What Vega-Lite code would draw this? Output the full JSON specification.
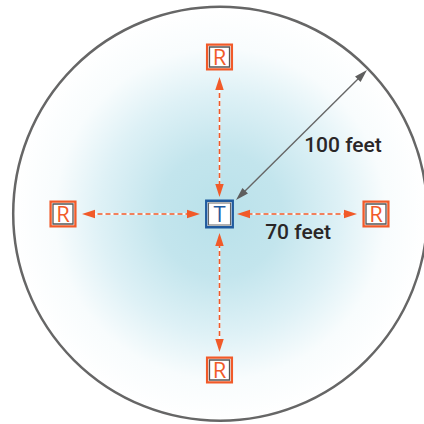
{
  "$schema": "https://vega.github.io/schema/vega-lite/v6.json",
  "width": 424,
  "height": 424,
  "autosize": {"type": "none"},
  "padding": 0,
  "background": "white",
  "config": {"view": {"stroke": null}, "axis": {"disable": true}},
  "datasets": {
    "circle": [{"x": 0.7, "y": 0.3}],
    "transmitter": [{"x": 0, "y": 0, "label": "T"}],
    "receivers": [
      {"x": 0, "y": 157, "label": "R"},
      {"x": -156.5, "y": 0, "label": "R"},
      {"x": 156.5, "y": 0, "label": "R"},
      {"x": 0, "y": -156, "label": "R"}
    ],
    "orangeLines": [
      {"x": 0, "y": 28, "x2": 0, "y2": 127},
      {"x": 0, "y": -29, "x2": 0, "y2": -128},
      {"x": -29, "y": 0, "x2": -127, "y2": 0},
      {"x": 28, "y": 0, "x2": 127, "y2": 0}
    ],
    "orangeHeads": [
      {"x": 0, "y": 17, "angle": 180},
      {"x": 0, "y": 137, "angle": 0},
      {"x": 0, "y": -19, "angle": 0},
      {"x": 0, "y": -138, "angle": 180},
      {"x": -19.5, "y": 0, "angle": 90},
      {"x": -137.5, "y": 0, "angle": 270},
      {"x": 17.5, "y": 0, "angle": 270},
      {"x": 137.5, "y": 0, "angle": 90}
    ],
    "grayLine": [{"x": 23, "y": 20.5, "x2": 141, "y2": 137.5}],
    "grayHeads": [
      {"x": 16.5, "y": 14, "angle": 225},
      {"x": 147.5, "y": 144, "angle": 45}
    ],
    "labels": [
      {"x": 123.5, "y": 68, "text": "100 feet"},
      {"x": 78.5, "y": -19, "text": "70 feet"}
    ]
  },
  "layer": [
    {
      "data": {"name": "circle"},
      "mark": {
        "type": "point",
        "shape": "circle",
        "filled": true,
        "size": 171396,
        "opacity": 1,
        "strokeWidth": 2.5,
        "stroke": "#666666",
        "fill": {
          "gradient": "radial",
          "x1": 0.5, "y1": 0.5, "r1": 0,
          "x2": 0.5, "y2": 0.5, "r2": 0.5,
          "stops": [
            {"offset": 0, "color": "#b9e1ea"},
            {"offset": 0.3, "color": "#c3e5ed"},
            {"offset": 0.58, "color": "#def1f6"},
            {"offset": 0.8, "color": "#f8fcfd"},
            {"offset": 1, "color": "#ffffff"}
          ]
        }
      },
      "encoding": {
        "x": {"field": "x", "type": "quantitative", "scale": {"domain": [-219.5, 204.5], "nice": false, "zero": false}},
        "y": {"field": "y", "type": "quantitative", "scale": {"domain": [-210, 214], "nice": false, "zero": false}}
      }
    },
    {
      "data": {"name": "orangeLines"},
      "mark": {"type": "rule", "color": "white", "strokeWidth": 1.6},
      "encoding": {
        "x": {"field": "x", "type": "quantitative", "scale": {"domain": [-219.5, 204.5], "nice": false, "zero": false}},
        "y": {"field": "y", "type": "quantitative", "scale": {"domain": [-210, 214], "nice": false, "zero": false}},
        "x2": {"field": "x2"},
        "y2": {"field": "y2"}
      }
    },
    {
      "data": {"name": "orangeLines"},
      "mark": {"type": "rule", "color": "#f15a29", "strokeWidth": 1.6, "strokeDash": [5, 3]},
      "encoding": {
        "x": {"field": "x", "type": "quantitative", "scale": {"domain": [-219.5, 204.5], "nice": false, "zero": false}},
        "y": {"field": "y", "type": "quantitative", "scale": {"domain": [-210, 214], "nice": false, "zero": false}},
        "x2": {"field": "x2"},
        "y2": {"field": "y2"}
      }
    },
    {
      "data": {"name": "orangeHeads"},
      "mark": {"type": "point", "shape": "M0,0L0.65,2L-0.65,2Z", "filled": true, "size": 169, "color": "#f15a29", "opacity": 1, "strokeWidth": 0},
      "encoding": {
        "x": {"field": "x", "type": "quantitative", "scale": {"domain": [-219.5, 204.5], "nice": false, "zero": false}},
        "y": {"field": "y", "type": "quantitative", "scale": {"domain": [-210, 214], "nice": false, "zero": false}},
        "angle": {"field": "angle", "type": "quantitative", "scale": null}
      }
    },
    {
      "data": {"name": "grayLine"},
      "mark": {"type": "rule", "color": "#666666", "strokeWidth": 1.4},
      "encoding": {
        "x": {"field": "x", "type": "quantitative", "scale": {"domain": [-219.5, 204.5], "nice": false, "zero": false}},
        "y": {"field": "y", "type": "quantitative", "scale": {"domain": [-210, 214], "nice": false, "zero": false}},
        "x2": {"field": "x2"},
        "y2": {"field": "y2"}
      }
    },
    {
      "data": {"name": "grayHeads"},
      "mark": {"type": "point", "shape": "M0,0L0.6,2L-0.6,2Z", "filled": true, "size": 169, "color": "#5e5e5e", "opacity": 1, "strokeWidth": 0},
      "encoding": {
        "x": {"field": "x", "type": "quantitative", "scale": {"domain": [-219.5, 204.5], "nice": false, "zero": false}},
        "y": {"field": "y", "type": "quantitative", "scale": {"domain": [-210, 214], "nice": false, "zero": false}},
        "angle": {"field": "angle", "type": "quantitative", "scale": null}
      }
    },
    {
      "data": {"name": "receivers"},
      "mark": {"type": "point", "shape": "square", "filled": false, "size": 615, "fill": "white", "fillOpacity": 1, "stroke": "#f15a29", "strokeWidth": 2.3, "opacity": 1},
      "encoding": {
        "x": {"field": "x", "type": "quantitative", "scale": {"domain": [-219.5, 204.5], "nice": false, "zero": false}},
        "y": {"field": "y", "type": "quantitative", "scale": {"domain": [-210, 214], "nice": false, "zero": false}}
      }
    },
    {
      "data": {"name": "receivers"},
      "mark": {"type": "point", "shape": "square", "filled": false, "size": 400, "stroke": "#555555", "strokeWidth": 1.3, "opacity": 1},
      "encoding": {
        "x": {"field": "x", "type": "quantitative", "scale": {"domain": [-219.5, 204.5], "nice": false, "zero": false}},
        "y": {"field": "y", "type": "quantitative", "scale": {"domain": [-210, 214], "nice": false, "zero": false}}
      }
    },
    {
      "data": {"name": "receivers"},
      "mark": {"type": "text", "font": "Open Sans", "fontSize": 22, "color": "#f15a29", "align": "center", "baseline": "middle", "dy": 1},
      "encoding": {
        "x": {"field": "x", "type": "quantitative", "scale": {"domain": [-219.5, 204.5], "nice": false, "zero": false}},
        "y": {"field": "y", "type": "quantitative", "scale": {"domain": [-210, 214], "nice": false, "zero": false}},
        "text": {"field": "label"}
      }
    },
    {
      "data": {"name": "transmitter"},
      "mark": {"type": "point", "shape": "square", "filled": false, "size": 702, "fill": "white", "fillOpacity": 1, "stroke": "#1f5a9e", "strokeWidth": 2.4, "opacity": 1},
      "encoding": {
        "x": {"field": "x", "type": "quantitative", "scale": {"domain": [-219.5, 204.5], "nice": false, "zero": false}},
        "y": {"field": "y", "type": "quantitative", "scale": {"domain": [-210, 214], "nice": false, "zero": false}}
      }
    },
    {
      "data": {"name": "transmitter"},
      "mark": {"type": "point", "shape": "square", "filled": false, "size": 484, "stroke": "#666666", "strokeWidth": 1.1, "opacity": 1},
      "encoding": {
        "x": {"field": "x", "type": "quantitative", "scale": {"domain": [-219.5, 204.5], "nice": false, "zero": false}},
        "y": {"field": "y", "type": "quantitative", "scale": {"domain": [-210, 214], "nice": false, "zero": false}}
      }
    },
    {
      "data": {"name": "transmitter"},
      "mark": {"type": "text", "font": "Open Sans", "fontSize": 22, "color": "#1f5a9e", "align": "center", "baseline": "middle", "dy": 1},
      "encoding": {
        "x": {"field": "x", "type": "quantitative", "scale": {"domain": [-219.5, 204.5], "nice": false, "zero": false}},
        "y": {"field": "y", "type": "quantitative", "scale": {"domain": [-210, 214], "nice": false, "zero": false}},
        "text": {"field": "label"}
      }
    },
    {
      "data": {"name": "labels"},
      "mark": {"type": "text", "font": "Roboto", "fontSize": 21, "fontWeight": 500, "color": "#2a2627", "align": "center", "baseline": "middle"},
      "encoding": {
        "x": {"field": "x", "type": "quantitative", "scale": {"domain": [-219.5, 204.5], "nice": false, "zero": false}},
        "y": {"field": "y", "type": "quantitative", "scale": {"domain": [-210, 214], "nice": false, "zero": false}},
        "text": {"field": "text"}
      }
    }
  ]
}
